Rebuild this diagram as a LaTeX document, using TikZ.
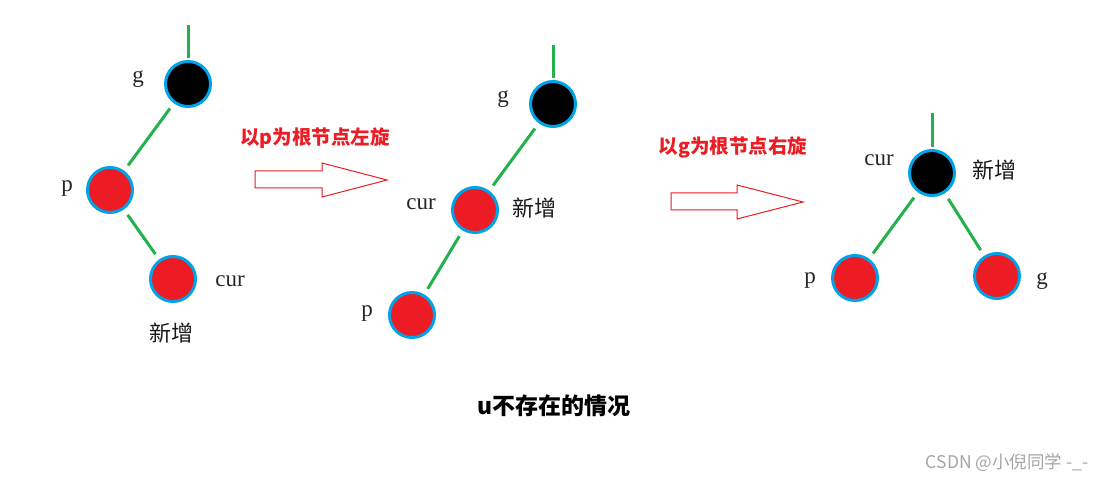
\documentclass[tikz,border=0pt]{standalone}
\usepackage{fontspec}
\setmainfont{Liberation Serif}
\newfontfamily\cjk{Noto Sans CJK SC}
\definecolor{nodered}{RGB}{237,28,36}
\definecolor{ringblue}{RGB}{0,162,232}
\definecolor{edgegreen}{RGB}{34,177,76}
\definecolor{markgray}{RGB}{165,165,165}
\begin{document}
\begin{tikzpicture}[x=1pt,y=-1pt,
  rb/.style={circle, draw=ringblue, line width=3pt, minimum size=45pt, inner sep=0pt},
  rednode/.style={rb, fill=nodered},
  blacknode/.style={rb, fill=black},
  link/.style={draw=edgegreen, line width=3pt, shorten <=6.5pt, shorten >=6.5pt},
  uplink/.style={draw=edgegreen, line width=3pt, shorten >=2pt},
  lab/.style={font=\fontsize{23}{23}\selectfont, inner sep=0pt, text=black!85},
  cjklab/.style={font=\cjk\fontsize{22}{22}\selectfont, inner sep=0pt, text=black!90},
  steplab/.style={font=\cjk\bfseries\fontsize{19.5}{19.5}\selectfont, text=nodered, inner sep=0pt},
  captionlab/.style={font=\cjk\bfseries\fontsize{23}{23}\selectfont, inner sep=0pt},
  marklab/.style={font=\cjk\fontsize{17.5}{17.5}\selectfont, text=markgray, inner sep=0pt},
  blockarrow/.style={draw=nodered, line width=1pt, line join=miter},
]
\useasboundingbox (0,0) rectangle (1112,481);
\fill[white] (0,0) rectangle (1112,481);

% ---- left tree ----
\node[blacknode] (g1) at (188,84) {};
\node[rednode] (p1) at (110,190) {};
\node[rednode] (c1) at (173,279) {};
\coordinate (g1top) at (188,25);
\draw[uplink] (g1top) -- (g1);
\draw[link] (g1) -- (p1);
\draw[link] (p1) -- (c1);
\node[lab] (g1l) at (138,79) {g};
\node[lab] (p1l) at (67,189) {p};
\node[lab] (c1l) at (230,281) {cur};
\node[cjklab] (c1n) at (171,333) {新增};

% ---- arrow 1 ----
\node[steplab] (s1) at (315,138) {以p为根节点左旋};
\draw[blockarrow] (255,171) -- (322,171) -- (322,163) -- (387,180) -- (322,197) -- (322,188) -- (255,188) -- cycle;

% ---- middle tree ----
\node[blacknode] (g2) at (553,104) {};
\node[rednode] (c2) at (475,210) {};
\node[rednode] (p2) at (412,315) {};
\coordinate (g2top) at (553,45);
\draw[uplink] (g2top) -- (g2);
\draw[link] (g2) -- (c2);
\draw[link] (c2) -- (p2);
\node[lab] (g2l) at (503,99) {g};
\node[lab] (c2l) at (421,204) {cur};
\node[cjklab] (c2n) at (534,208) {新增};
\node[lab] (p2l) at (367,314) {p};

% ---- arrow 2 ----
\node[steplab] (s2) at (733,147) {以g为根节点右旋};
\draw[blockarrow] (671,193) -- (737,193) -- (737,185) -- (803,202) -- (737,219) -- (737,210) -- (671,210) -- cycle;

% ---- right tree ----
\node[blacknode] (c3) at (932,173) {};
\node[rednode] (p3) at (855,278) {};
\node[rednode] (g3) at (997,276) {};
\coordinate (c3top) at (932,113);
\draw[uplink] (c3top) -- (c3);
\draw[link] (c3) -- (p3);
\draw[link] (c3) -- (g3);
\node[lab] (c3l) at (879,160) {cur};
\node[cjklab] (c3n) at (994,170) {新增};
\node[lab] (p3l) at (810,281) {p};
\node[lab] (g3l) at (1042,281) {g};

% ---- caption and watermark ----
\node[captionlab] (cap) at (554,406) {u不存在的情况};
\node[marklab] (mark) at (1007,463) {CSDN @小倪同学 -\_-};
\end{tikzpicture}
\end{document}
